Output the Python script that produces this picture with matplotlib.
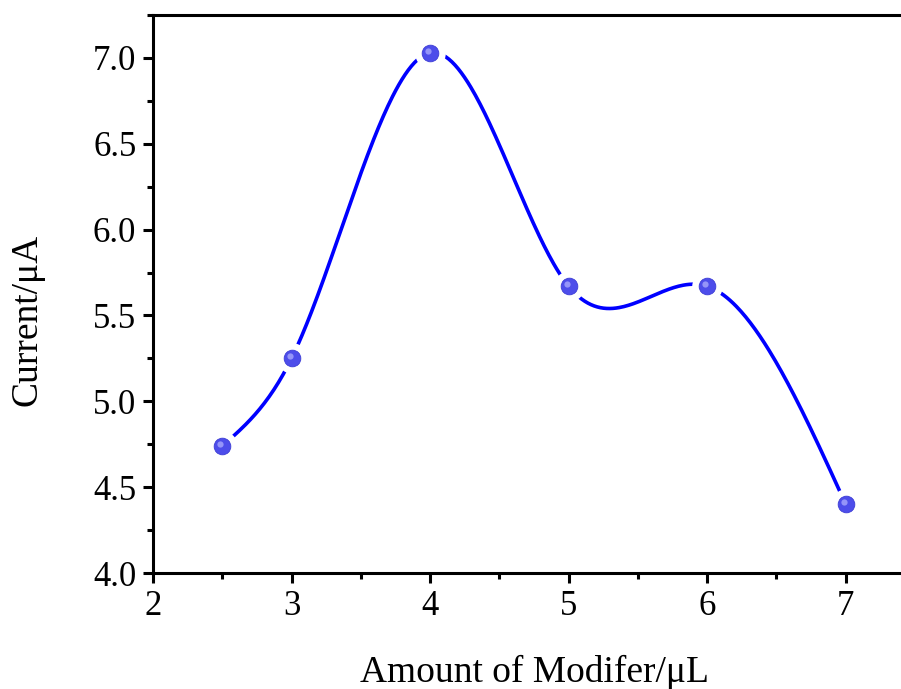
import numpy as np
import matplotlib.pyplot as plt
import matplotlib.transforms as mtransforms
from matplotlib.ticker import MultipleLocator

# data
amount = [2.5, 3, 4, 5, 6, 7]
current = [4.74, 5.25, 7.03, 5.67, 5.67, 4.40]


def natural_spline(x, y, n=400):
    # plain natural cubic spline, only used to draw the smooth line
    x = np.asarray(x, float)
    y = np.asarray(y, float)
    k = len(x)
    h = np.diff(x)
    A = np.zeros((k, k))
    b = np.zeros(k)
    A[0, 0] = A[-1, -1] = 1
    for i in range(1, k - 1):
        A[i, i - 1] = h[i - 1]
        A[i, i] = 2 * (h[i - 1] + h[i])
        A[i, i + 1] = h[i]
        b[i] = 3 * ((y[i + 1] - y[i]) / h[i] - (y[i] - y[i - 1]) / h[i - 1])
    c = np.linalg.solve(A, b)
    xs = np.linspace(x[0], x[-1], n)
    ys = np.empty_like(xs)
    for j, t in enumerate(xs):
        i = min(np.searchsorted(x, t, side='right') - 1, k - 2)
        d = t - x[i]
        bb = (y[i + 1] - y[i]) / h[i] - h[i] * (2 * c[i] + c[i + 1]) / 3
        dd = (c[i + 1] - c[i]) / (3 * h[i])
        ys[j] = y[i] + bb * d + c[i] * d ** 2 + dd * d ** 3
    return xs, ys


plt.rcParams['font.family'] = ['Liberation Serif', 'DejaVu Serif']

fig = plt.figure(figsize=(9.01, 6.89), dpi=100)
ax = fig.add_axes([153 / 901, 1 - 573 / 689, (915 - 153) / 901, (573 - 15) / 689])

xs, ys = natural_spline(amount, current)
ax.plot(xs, ys, color='#0000ff', lw=2.6, zorder=2)

# white halo gives the gap between line and markers
ax.plot(amount, current, 'o', ms=22, color='white', mec='none', zorder=3)
ax.plot(amount, current, 'o', ms=12, color='#4d4dea', mec='#3c3cd6', mew=0.6, zorder=4)
shift = mtransforms.ScaledTranslation(-2 / 100, 2 / 100, fig.dpi_scale_trans)
ax.plot(amount, current, 'o', ms=4.5, color='#b4b4ff', mec='none', alpha=0.7,
        transform=ax.transData + shift, zorder=5)

ax.set_xlim(2, 7.5)
ax.set_ylim(4.0, 7.25)
ax.xaxis.set_major_locator(MultipleLocator(1))
ax.xaxis.set_minor_locator(MultipleLocator(0.5))
ax.yaxis.set_major_locator(MultipleLocator(0.5))
ax.yaxis.set_minor_locator(MultipleLocator(0.25))
ax.yaxis.set_major_formatter(plt.FuncFormatter(lambda v, p: f'{v:.1f}'))

ax.spines['right'].set_visible(False)
for s in ['left', 'bottom', 'top']:
    ax.spines[s].set_linewidth(2.2)

ax.tick_params(which='major', direction='out', length=7, width=2.2, labelsize=25, pad=5)
ax.tick_params(which='minor', direction='out', length=4, width=2.2)
ax.tick_params(top=False, right=False)

ax.set_xlabel('Amount of Modifer/μL', fontsize=27, labelpad=23)
ax.set_ylabel('Current/μA', fontsize=27)
ax.yaxis.set_label_coords(-0.143, 0.453)

fig.savefig('out.png', dpi=100)
